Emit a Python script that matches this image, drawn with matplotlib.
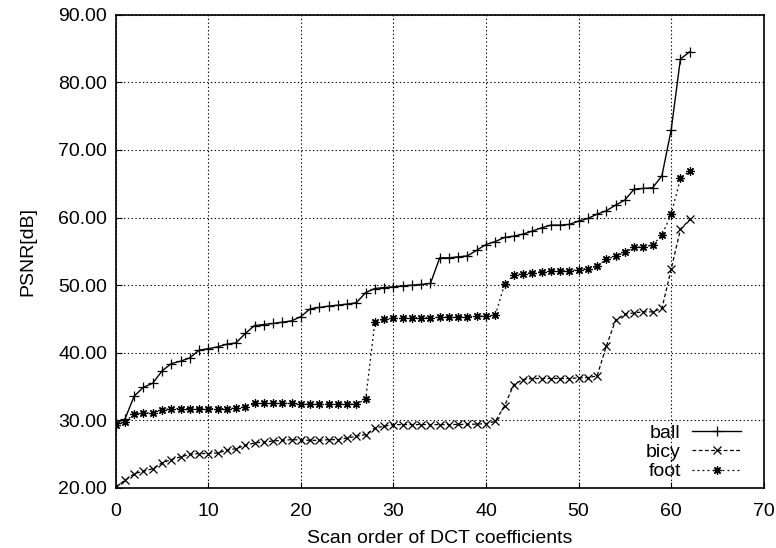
import numpy as np
import matplotlib.pyplot as plt
from matplotlib.ticker import FormatStrFormatter

plt.rcParams['font.family'] = ['Liberation Sans', 'DejaVu Sans']

# PSNR per scan position (63 coefficients)
scan = np.arange(63)

ball = [29.6, 30.2, 33.6, 34.9, 35.5, 37.3, 38.4, 38.75, 39.24, 40.38,
        40.6, 40.87, 41.27, 41.46, 42.85, 44.03, 44.18, 44.33, 44.52, 44.72,
        45.35, 46.5, 46.7, 46.9, 47.04, 47.2, 47.4, 48.9, 49.5, 49.65,
        49.75, 49.9, 50.0, 50.1, 50.25, 54.04, 54.04, 54.19, 54.33, 55.17,
        56.0, 56.45, 57.05, 57.25, 57.55, 58.0, 58.48, 58.88, 58.88, 58.98,
        59.47, 59.87, 60.5, 61.0, 61.84, 62.58, 64.2, 64.3, 64.4, 66.17,
        72.94, 83.44, 84.52]

bicy = [20.15, 21.14, 22.1, 22.47, 22.86, 23.7, 24.2, 24.6, 24.96, 25.1,
        25.1, 25.18, 25.58, 25.82, 26.3, 26.66, 26.8, 26.95, 27.05, 27.15,
        27.1, 27.05, 27.05, 27.15, 27.15, 27.4, 27.65, 27.9, 28.88, 29.13,
        29.38, 29.38, 29.38, 29.38, 29.38, 29.38, 29.38, 29.4, 29.4, 29.45,
        29.52, 29.86, 32.13, 35.3, 36.04, 36.19, 36.19, 36.19, 36.19, 36.19,
        36.28, 36.33, 36.57, 41.0, 44.82, 45.7, 45.9, 46.05, 46.05, 46.55,
        52.36, 58.24, 59.72]

foot = [29.28, 29.77, 31.0, 31.1, 31.1, 31.54, 31.75, 31.75, 31.75, 31.75,
        31.75, 31.75, 31.75, 31.8, 32.0, 32.5, 32.5, 32.5, 32.5, 32.5,
        32.4, 32.4, 32.4, 32.4, 32.4, 32.4, 32.4, 33.13, 44.57, 44.96,
        45.07, 45.1, 45.15, 45.2, 45.2, 45.25, 45.3, 45.3, 45.35, 45.4,
        45.45, 45.55, 50.1, 51.47, 51.72, 51.87, 51.97, 52.11, 52.11, 52.11,
        52.3, 52.46, 52.8, 53.8, 54.33, 54.83, 55.57, 55.67, 55.92, 57.4,
        60.46, 65.78, 66.9]

fig = plt.figure(figsize=(7.76, 5.48), dpi=100)
ax = fig.add_axes([0.1491, 0.1095, 0.8351, 0.8637])

ax.plot(scan, ball, '-', color='black', linewidth=1.0, marker='+',
        markersize=6.5, markeredgewidth=0.9, label='ball')
ax.plot(scan, bicy, '--', color='black', linewidth=0.9, dashes=(3, 2),
        marker='x', markersize=5.5, markeredgewidth=0.9, label='bicy')
ax.plot(scan, foot, ':', color='black', linewidth=0.9, dashes=(1.5, 2.5),
        marker=(8, 2, 0), markersize=6, markeredgewidth=0.9, label='foot')

ax.set_xlim(0, 70)
ax.set_ylim(20, 90)
ax.set_xticks(np.arange(0, 71, 10))
ax.set_yticks(np.arange(20, 91, 10))
ax.yaxis.set_major_formatter(FormatStrFormatter('%.2f'))
ax.tick_params(direction='in', length=4, width=0.8, labelsize=14,
               top=False, right=False)
ax.tick_params(axis='x', pad=11)
ax.tick_params(axis='y', pad=6)

ax.grid(True, color='black', linestyle=(0, (1.2, 2.2)), linewidth=0.8)
for s in ax.spines.values():
    s.set_linewidth(1.2)

ax.set_xlabel('Scan order of DCT coefficients', fontsize=14, labelpad=7)
ax.set_ylabel('PSNR[dB]', fontsize=14, labelpad=16)

leg = ax.legend(loc='lower right', bbox_to_anchor=(0.965, 0.016),
                frameon=False, markerfirst=False, handlelength=2.5,
                handletextpad=0.6, labelspacing=0.08, borderpad=0,
                borderaxespad=0, fontsize=14)

fig.savefig('out.png', dpi=100)
